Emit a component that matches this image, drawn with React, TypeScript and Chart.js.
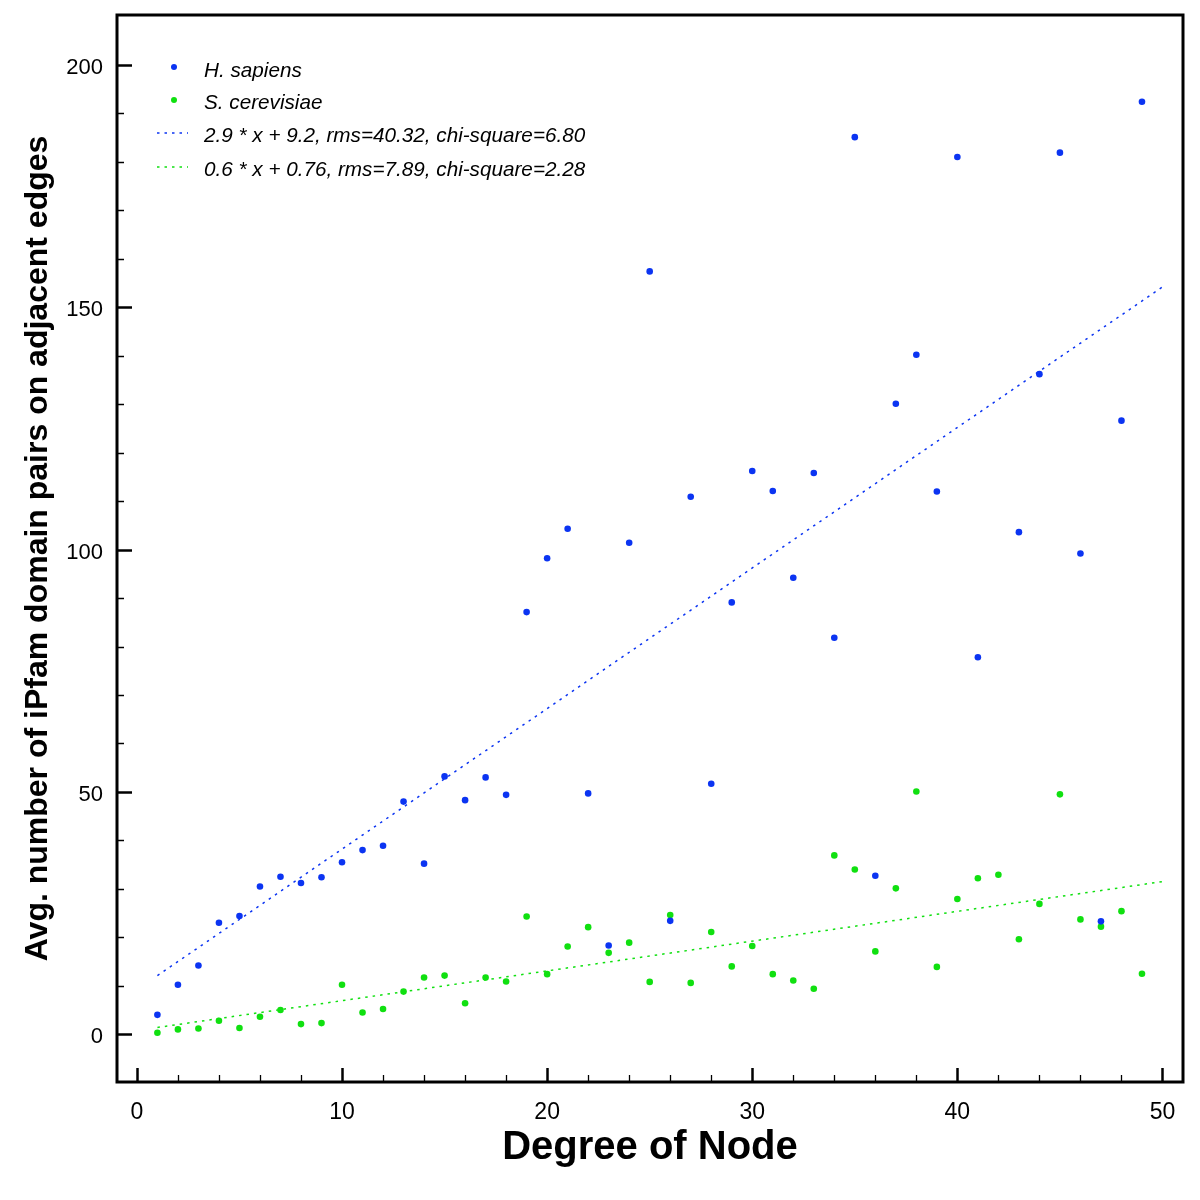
import React, { useEffect, useRef } from "react";
import { Chart, registerables } from "chart.js";

Chart.register(...registerables);

const degrees = [
  1, 2, 3, 4, 5, 6, 7, 8, 9, 10, 11, 12, 13, 14, 15, 16, 17, 18, 19, 20, 21, 22, 23, 24, 25,
  26, 27, 28, 29, 30, 31, 32, 33, 34, 35, 36, 37, 38, 39, 40, 41, 42, 43, 44, 45, 46, 47, 48, 49,
];

const hSapiens: (number | null)[] = [
  4.0, 10.2, 14.2, 23.0, 24.4, 30.5, 32.5, 31.2, 32.4, 35.5,
  38.0, 38.9, 48.0, 35.2, 53.2, 48.3, 53.0, 49.4, 87.1, 98.2,
  104.3, 49.7, 18.3, 101.4, 157.4, 23.4, 110.9, 51.7, 89.1, 116.2,
  112.1, 94.2, 115.8, 81.8, 185.1, 32.7, 130.1, 140.2, 112.0, 181.0,
  77.8, null, 103.6, 136.2, 181.9, 99.2, 23.3, 126.6, 192.4,
];

const sCerevisiae = [
  0.3, 1.0, 1.2, 2.8, 1.3, 3.6, 5.0, 2.1, 2.3, 10.2,
  4.5, 5.2, 8.8, 11.7, 12.1, 6.4, 11.7, 10.9, 24.3, 12.4,
  18.1, 22.1, 16.8, 18.9, 10.8, 24.6, 10.6, 21.1, 14.0, 18.2,
  12.4, 11.1, 9.4, 36.9, 34.0, 17.1, 30.1, 50.1, 13.9, 27.9,
  32.2, 32.9, 19.6, 26.9, 49.5, 23.7, 22.2, 25.4, 12.5,
];

const fitX = [1, 50];
const hFit = [12.1, 154.2];
const sFit = [1.4, 31.5];

const xTickValues = [0, 10, 20, 30, 40, 50];
const yTickValues = [0, 50, 100, 150, 200];
const xMinorTicks = [2, 4, 6, 8, 12, 14, 16, 18, 22, 24, 26, 28, 32, 34, 36, 38, 42, 44, 46, 48];
const yMinorTicks = [10, 20, 30, 40, 60, 70, 80, 90, 110, 120, 130, 140, 160, 170, 180, 190];

const legendLabels = [
  "H. sapiens",
  "S. cerevisiae",
  "2.9 * x + 9.2, rms=40.32, chi-square=6.80",
  "0.6 * x + 0.76, rms=7.89, chi-square=2.28",
];

const BLUE = "#0b34f2";
const GREEN = "#10e010";

const framePlugin = {
  id: "frameTicks",
  afterDraw(chart: any) {
    const ctx = chart.ctx;
    const { left, right, top, bottom } = chart.chartArea;
    const xs = chart.scales.x;
    const ys = chart.scales.y;
    ctx.save();
    ctx.strokeStyle = "#000";
    ctx.lineWidth = 2.5;
    xTickValues.forEach((v) => {
      const px = Math.round(xs.getPixelForValue(v)) + 0.5;
      ctx.beginPath();
      ctx.moveTo(px, bottom);
      ctx.lineTo(px, bottom - 14);
      ctx.stroke();
    });
    ctx.lineWidth = 1.3;
    xMinorTicks.forEach((v) => {
      const px = Math.round(xs.getPixelForValue(v)) + 0.5;
      ctx.beginPath();
      ctx.moveTo(px, bottom);
      ctx.lineTo(px, bottom - 7);
      ctx.stroke();
    });
    ctx.lineWidth = 2.5;
    yTickValues.forEach((v) => {
      const py = Math.round(ys.getPixelForValue(v)) + 0.5;
      ctx.beginPath();
      ctx.moveTo(left, py);
      ctx.lineTo(left + 15, py);
      ctx.stroke();
    });
    ctx.lineWidth = 1.5;
    yMinorTicks.forEach((v) => {
      const py = Math.round(ys.getPixelForValue(v)) + 0.5;
      ctx.beginPath();
      ctx.moveTo(left, py);
      ctx.lineTo(left + 7, py);
      ctx.stroke();
    });
    ctx.lineWidth = 3;
    ctx.strokeRect(left, top, right - left, bottom - top);

    const rows = [71, 103, 136, 170];
    ctx.font = 'italic 20.7px "Liberation Sans", Arial, sans-serif';
    ctx.textBaseline = "middle";
    ctx.textAlign = "left";
    ctx.fillStyle = "#000";
    rows.forEach((y, i) => ctx.fillText(legendLabels[i], 204, y));
    ctx.fillStyle = BLUE;
    ctx.beginPath();
    ctx.arc(174, rows[0] - 4, 3, 0, Math.PI * 2);
    ctx.fill();
    ctx.fillStyle = GREEN;
    ctx.beginPath();
    ctx.arc(174, rows[1] - 3, 3, 0, Math.PI * 2);
    ctx.fill();
    ctx.lineWidth = 1.5;
    ctx.setLineDash([2.5, 5]);
    ctx.strokeStyle = BLUE;
    ctx.beginPath();
    ctx.moveTo(157, rows[2] - 3);
    ctx.lineTo(188, rows[2] - 3);
    ctx.stroke();
    ctx.strokeStyle = GREEN;
    ctx.beginPath();
    ctx.moveTo(157, rows[3] - 3);
    ctx.lineTo(188, rows[3] - 3);
    ctx.stroke();
    ctx.restore();
  },
};

export default function App() {
  const ref = useRef<HTMLCanvasElement>(null);
  useEffect(() => {
    document.body.style.margin = "0";
    const canvas = ref.current!;
    const chart = new Chart(canvas, {
      type: "scatter",
      data: {
        datasets: [
          {
            label: "H. sapiens",
            data: degrees.map((d, i) => ({ x: d, y: hSapiens[i] as any })),
            backgroundColor: BLUE,
            pointRadius: 3.3,
            pointBorderWidth: 0,
            showLine: false,
          },
          {
            label: "S. cerevisiae",
            data: degrees.map((d, i) => ({ x: d, y: sCerevisiae[i] })),
            backgroundColor: GREEN,
            pointRadius: 3.3,
            pointBorderWidth: 0,
            showLine: false,
          },
          {
            label: "fit H",
            data: fitX.map((x, i) => ({ x, y: hFit[i] })),
            borderColor: BLUE,
            borderWidth: 1.5,
            borderDash: [2.5, 5],
            pointRadius: 0,
            showLine: true,
          },
          {
            label: "fit S",
            data: fitX.map((x, i) => ({ x, y: sFit[i] })),
            borderColor: GREEN,
            borderWidth: 1.5,
            borderDash: [2.5, 5],
            pointRadius: 0,
            showLine: true,
          },
        ],
      },
      options: {
        animation: false,
        responsive: false,
        devicePixelRatio: 1,
        layout: { padding: { top: 15, right: 17, left: 0, bottom: 0 } },
        plugins: { legend: { display: false }, tooltip: { enabled: false } },
        scales: {
          x: {
            type: "linear",
            min: -0.97,
            max: 51,
            grid: { display: false, drawTicks: false },
            border: { display: false },
            afterBuildTicks: (s: any) => {
              s.ticks = xTickValues.map((v) => ({ value: v }));
            },
            afterFit: (s: any) => {
              s.height = 118;
              s.paddingLeft = 0;
              s.paddingRight = 0;
            },
            ticks: {
              padding: 17,
              color: "#000",
              font: { family: '"Liberation Sans", Arial, sans-serif', size: 23 },
              maxRotation: 0,
            },
            title: {
              display: true,
              text: "Degree of Node",
              color: "#000",
              font: { family: '"Liberation Sans", Arial, sans-serif', size: 40, weight: "bold" },
              padding: { top: 0, bottom: 28 },
            },
          },
          y: {
            type: "linear",
            min: -9.85,
            max: 210.3,
            grid: { display: false, drawTicks: false },
            border: { display: false },
            afterBuildTicks: (s: any) => {
              s.ticks = yTickValues.map((v) => ({ value: v }));
            },
            afterFit: (s: any) => {
              s.width = 117;
              s.paddingTop = 0;
              s.paddingBottom = 0;
            },
            ticks: {
              padding: 14,
              labelOffset: 3,
              color: "#000",
              font: { family: '"Liberation Sans", Arial, sans-serif', size: 22 },
            },
            title: {
              display: true,
              text: "Avg. number of iPfam domain pairs on adjacent edges",
              color: "#000",
              font: { family: '"Liberation Sans", Arial, sans-serif', size: 32, weight: "bold" },
              padding: { top: 19, bottom: 0 },
            },
          },
        },
      },
      plugins: [framePlugin],
    });
    return () => chart.destroy();
  }, []);
  return (
    <div style={{ position: "absolute", left: 0, top: 0, width: 1200, height: 1200, background: "#fff" }}>
      <canvas ref={ref} width={1200} height={1200} style={{ width: 1200, height: 1200 }} />
    </div>
  );
}
